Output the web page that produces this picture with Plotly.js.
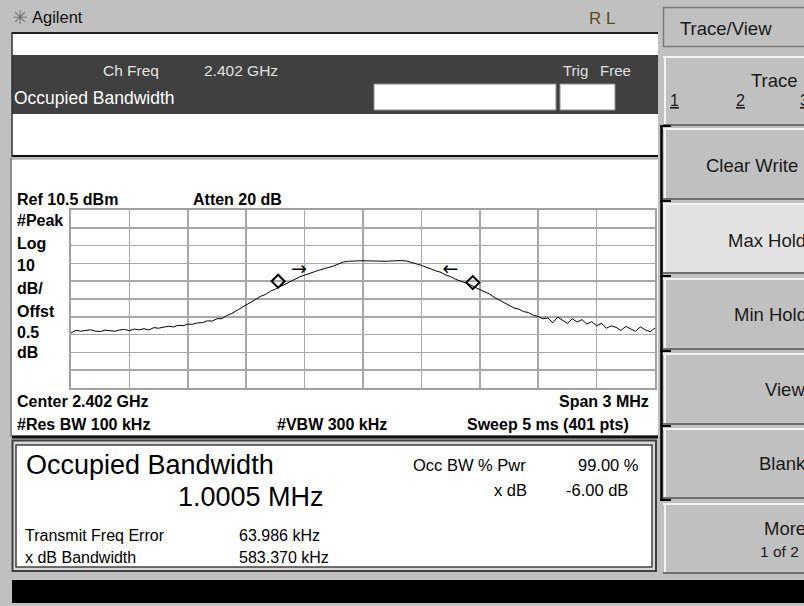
<!DOCTYPE html>
<html><head><meta charset="utf-8">
<script src="https://cdn.plot.ly/plotly-3.0.1.min.js"></script>
<style>html,body{margin:0;padding:0;overflow:hidden;background:#c0c0c0}#chart{width:804px;height:606px}</style>
</head><body><div id="chart"></div>
<script>
const startFreqGHz = 2.4005;
const stopFreqGHz = 2.4035;
const traceLevels = [
 -58.6,-57.1,-57.6,-57.4,-56.8,-57.5,-57.8,-57.0,-57.3,-57.6,-56.9,-56.6,
 -57.3,-56.4,-56.8,-56.2,-56.9,-55.6,-55.9,-55.4,-54.8,-55.2,-54.3,-54.5,
 -53.6,-53.7,-52.9,-52.8,-51.8,-51.9,-50.6,-50.5,-48.8,-47.7,-46.1,-44.7,
 -43.1,-41.2,-39.8,-38.0,-36.9,-35.1,-33.9,-32.5,-31.3,-29.9,-28.7,-27.1,
 -26.1,-25.0,-24.2,-23.3,-22.7,-21.7,-20.9,-19.6,-18.7,-18.3,-18.1,-18.1,
 -18.0,-18.1,-18.2,-18.2,-18.0,-18.3,-18.1,-17.8,-17.9,-18.2,-18.8,-19.8,
 -20.6,-21.8,-22.7,-23.7,-24.5,-26.0,-26.9,-28.4,-29.4,-30.7,-31.4,-32.9,
 -34.1,-35.5,-36.7,-38.6,-40.1,-41.9,-43.1,-44.5,-45.2,-46.6,-47.1,-48.7,
 -49.3,-50.6,-50.1,-52.9,-49.7,-51.4,-53.2,-50.6,-52.4,-51.1,-53.6,-52.2,
 -54.5,-53.1,-55.9,-54.6,-55.4,-57.2,-54.9,-56.3,-57.6,-55.2,-56.8,-57.9,-55.8
];
const obwMarkerFreqs = [2.401564, 2.402564];
const obwMarkerLevels = [-29.5, -30.3];
const xdbArrowFreqs = [2.401671, 2.402449];
const xdbArrowLevels = [-23.6, -23.6];
const xdbArrowGlyphs = ['\u2192', '\u2190'];
const refLevel = 10.5, dbPerDiv = 10, divisions = 10;

const softkeyLabels = ['Trace', 'Clear Write', 'Max Hold', 'Min Hold', 'View', 'Blank', 'More'];

// ---- build ----
const step = (stopFreqGHz - startFreqGHz) / (traceLevels.length - 1);
const traceFreqs = traceLevels.map((_, i) => startFreqGHz + i * step);

const L = 71, R = 655, T = 210, B = 388;
const px = x => (x - L) / (R - L);
const py = y => (B - y) / (B - T);
const FONT = 'Liberation Sans, Arial, sans-serif';

const shapes = [];
function rect(x0, y0, x1, y1, fill, lc, lw) {
  shapes.push({type:'rect', xref:'paper', yref:'paper', layer:'below',
    x0:px(x0), x1:px(x1), y0:py(y1), y1:py(y0), fillcolor:fill,
    line:{color: lc || 'rgba(0,0,0,0)', width: lw || 0}});
}
function line(x0, y0, x1, y1, c, w) {
  shapes.push({type:'line', xref:'paper', yref:'paper', layer:'below',
    x0:px(x0), x1:px(x1), y0:py(y0), y1:py(y1), line:{color:c, width:w}});
}
const ann = [];
function txt(x, y, text, size, color, anchor, extra) {
  ann.push(Object.assign({xref:'paper', yref:'paper', x:px(x), y:py(y), text:text,
    showarrow:false, xanchor:anchor || 'left', yanchor:'middle', borderpad:0,
    font:{family:FONT, size:size, color:color}}, extra || {}));
}

// top panels
rect(12, 32, 658, 55, '#ffffff');
line(12, 33, 658, 33, '#202020', 2);
rect(12, 55, 658, 114, '#404040');
rect(374, 84, 556, 110, '#ffffff', '#909090', 1);
rect(560, 84, 615, 110, '#ffffff', '#909090', 1);
rect(12, 114, 658, 155, '#ffffff');
line(12, 156, 658, 156, '#101010', 2);
line(12, 32, 12, 157, '#303030', 1.5);
// plot panel
rect(12, 159, 658, 435, '#ffffff');
line(12, 159, 658, 159, '#a0a0a0', 1);
line(11, 158, 11, 437, '#8c8c8c', 2);
line(12, 437, 658, 437, '#101010', 3);
// results panel
rect(12.5, 440.5, 656, 571, '#d8d8d8', '#404040', 2);
rect(16, 445, 652, 567, '#ffffff', '#404040', 1.5);
// bottom bar
rect(12, 580, 806, 603, '#000000');
// softkey title
rect(663.5, 7.5, 806, 46.5, '#c0c0c0', '#7a7a7a', 1.5);
// softkeys
const keys = [[56,125],[128,199],[203,273],[278,349],[353,424],[428,498],[503,573]];
keys.forEach((k, i) => {
  rect(663, k[0], 806, k[1], i === 2 ? '#e2e2e2' : '#c0c0c0');
  line(663, k[0] + 1, 806, k[0] + 1, '#f4f4f4', 2);
  line(665, k[0], 665, k[1], '#f4f4f4', 2);
  line(663, k[1], 806, k[1], '#6e6e6e', 2);
});
line(661.5, 126, 661.5, 500, '#000000', 2.5);
[126, 201, 276, 351, 426, 500].forEach(y => line(660, y, 671, y, '#000000', 2));

// texts: title bar
txt(11, 17, '\u2733', 19, '#707070', 'left', {font:{family:'DejaVu Sans', size:19, color:'#707070'}});
txt(31, 17, 'Agilent', 16.5, '#101010');
txt(588, 18, 'R L', 17, '#5a4a14');
txt(102, 70, 'Ch Freq', 15.5, '#e0e0e0');
txt(203, 70, '2.402 GHz', 15.5, '#e0e0e0');
txt(562, 70, 'Trig', 15, '#e0e0e0');
txt(599, 70, 'Free', 15, '#e0e0e0');
txt(13, 98, 'Occupied Bandwidth', 17.5, '#ffffff');
// plot labels
const lbl = (x, y, t, a) => txt(x, y, '<b>' + t + '</b>', 16, '#000000', a);
lbl(16, 199, 'Ref ' + refLevel + ' dBm');
lbl(192, 199, 'Atten 20 dB');
[['#Peak',220],['Log',243],[String(dbPerDiv),265],['dB/',288],['Offst',311.5],['0.5',332.5],['dB',352.5]]
  .forEach(p => lbl(16, p[1], p[0]));
lbl(16, 401.5, 'Center 2.402 GHz');
lbl(650, 401.5, 'Span 3 MHz', 'right');
lbl(16, 424, '#Res BW 100 kHz');
lbl(276, 424, '#VBW 300 kHz');
lbl(466, 424, 'Sweep 5 ms (401 pts)');
// results
txt(25, 465, 'Occupied Bandwidth', 27, '#000000');
txt(177, 497, '1.0005 MHz', 27, '#000000');
txt(24, 535, 'Transmit Freq Error', 16, '#000000');
txt(238, 535, '63.986 kHz', 16, '#000000');
txt(24, 557, 'x dB Bandwidth', 16, '#000000');
txt(238, 557, '583.370 kHz', 16, '#000000');
txt(412, 465, 'Occ BW % Pwr', 16.5, '#000000');
txt(640, 465, '99.00 %', 16.5, '#000000', 'right');
txt(528, 490, 'x dB', 16.5, '#000000', 'right');
txt(629, 490, '-6.00 dB', 16.5, '#000000', 'right');
// softkeys
const KC = '#1a1a1a';
txt(679, 28, 'Trace/View', 18.5, KC);
txt(750, 80, softkeyLabels[0], 18.5, KC);
txt(669, 101, '<u>1</u>', 16, KC);
txt(735, 101, '<u>2</u>', 16, KC);
txt(799, 101, '<u>3</u>', 16, KC);
const keyTextX = [null, 705, 727, 733, 764, 758, 763];
const keyTextY = [null, 165, 240, 314, 389, 463, 528];
for (let i = 1; i < softkeyLabels.length; i++) txt(keyTextX[i], keyTextY[i], softkeyLabels[i], 18.5, KC);
txt(759, 551, '1 of 2', 15.5, KC);

const data = [
  {x: traceFreqs, y: traceLevels, type:'scatter', mode:'lines',
   line:{color:'#000000', width:1}, hoverinfo:'skip'},
  {x: obwMarkerFreqs, y: obwMarkerLevels, type:'scatter', mode:'markers',
   marker:{symbol:'diamond-open', size:10, color:'#000000', line:{width:2, color:'#000000'}}},
  {x: xdbArrowFreqs, y: xdbArrowLevels, type:'scatter', mode:'text', text: xdbArrowGlyphs,
   textposition:'middle center', textfont:{family:'DejaVu Sans', size:19, color:'#000000'}}
];

const layout = {
  width:804, height:606, showlegend:false,
  margin:{l:L, r:804 - R, t:T, b:606 - B, pad:0},
  paper_bgcolor:'#c0c0c0', plot_bgcolor:'#ffffff',
  xaxis:{range:[startFreqGHz, stopFreqGHz], tick0:startFreqGHz, dtick:(stopFreqGHz - startFreqGHz) / divisions,
    showticklabels:false, ticks:'', showgrid:true, gridcolor:'#a8a8a8', gridwidth:1.5,
    zeroline:false, showline:true, mirror:true, linecolor:'#a0a0a0', linewidth:2, fixedrange:true},
  yaxis:{range:[refLevel - dbPerDiv * divisions, refLevel], tick0:refLevel, dtick:dbPerDiv,
    showticklabels:false, ticks:'', showgrid:true, gridcolor:'#a8a8a8', gridwidth:1.5,
    zeroline:false, showline:true, mirror:true, linecolor:'#a0a0a0', linewidth:2, fixedrange:true},
  shapes:shapes, annotations:ann
};
Plotly.newPlot('chart', data, layout, {staticPlot:true, displayModeBar:false});
</script></body></html>
